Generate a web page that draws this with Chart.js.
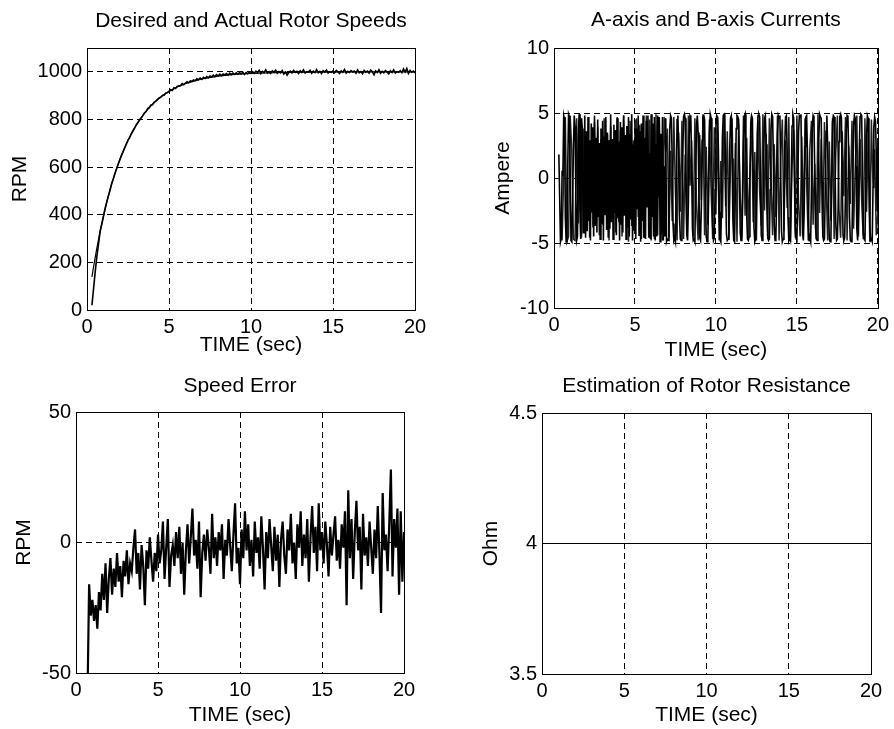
<!DOCTYPE html>
<html>
<head>
<meta charset="utf-8">
<title>Rotor speed simulation</title>
<script src="https://cdn.jsdelivr.net/npm/chart.js@4.4.0/dist/chart.umd.min.js"></script>
<style>
body { margin: 0; background: #fff; }
#fig { position: relative; width: 894px; height: 729px; }
canvas { position: absolute; }
</style>
</head>
<body>
<div id="fig">
<canvas id="c1" width="447" height="365" style="left:0;top:0"></canvas>
<canvas id="c2" width="447" height="365" style="left:447px;top:0"></canvas>
<canvas id="c3" width="447" height="364" style="left:0;top:365px"></canvas>
<canvas id="c4" width="447" height="364" style="left:447px;top:365px"></canvas>
</div>
<script>
// ---- dati ----
var titoli = ["Desired and Actual Rotor Speeds", "A-axis and B-axis Currents", "Speed Error", "Estimation of Rotor Resistance"];
var etichettaX = "TIME (sec)";
var etichetteY = ["RPM", "Ampere", "RPM", "Ohm"];

var tickTempo = [0, 5, 10, 15, 20];
var tickVel = [0, 200, 400, 600, 800, 1000];
var tickCorr = [-10, -5, 0, 5, 10];
var tickErr = [-50, 0, 50];
var tickRes = [3.5, 4, 4.5];

// velocita' desiderata (curva liscia)
var tDesiderata = [0.3, 0.4, 0.5, 0.6, 0.75, 0.9, 1, 1.1, 1.25, 1.4, 1.5, 1.75, 2, 2.25, 2.5, 2.75, 3, 3.25, 3.5, 4, 4.5, 5, 5.5, 6, 7, 8, 9, 10, 12, 14, 16, 18, 20];
var velDesiderata = [139, 181, 221, 259, 313, 362, 393, 423, 465, 503, 528, 583, 632, 675, 713, 747, 777, 803, 826, 865, 895, 918, 936, 950, 970, 982, 989, 993, 998, 999, 1000, 1000, 1000];

// velocita' reale, campionata ogni 0.1 s da 0.3 s
var velRealeInizio = 0.3, velRealePasso = 0.1;
var velReale = [20, 90, 160, 225, 275, 330, 360, 392,
    425, 452, 478, 502, 530, 550, 572, 592, 612, 630,
    648, 664, 680, 697, 712, 724, 739, 751, 764, 776,
    786, 797, 806, 815, 827, 833, 846, 850, 861, 862,
    873, 877, 884, 890, 893, 901, 902, 911, 912, 918,
    925, 922, 933, 930, 939, 941, 942, 951, 946, 953,
    958, 954, 962, 960, 966, 963, 971, 967, 974, 968,
    977, 972, 980, 975, 982, 978, 986, 980, 988, 983,
    990, 984, 991, 987, 993, 986, 994, 988, 995, 989,
    996, 990, 997, 991, 998, 989, 997, 992, 999, 993,
    1001, 994, 1003, 996, 1006, 992, 1002, 997, 1008, 995,
    1000, 993, 1004, 998, 1007, 994, 1001, 996, 1005, 991,
    999, 986, 997, 1003, 995, 1006, 998, 1002, 993, 1004,
    997, 1008, 995, 1001, 999, 1006, 994, 1003, 997, 1009,
    996, 1002, 993, 1005, 999, 1007, 995, 1001, 998, 1004,
    996, 1006, 1000, 993, 1004, 998, 1010, 995, 1002, 997,
    1005, 999, 1003, 994, 1008, 996, 1001, 992, 1006, 998,
    1003, 995, 1007, 1000, 988, 1004, 997, 1009, 994, 1002,
    996, 1006, 999, 991, 1004, 997, 1008, 995, 1001, 998,
    1005, 996, 1012, 999, 1014, 993, 1006, 998, 1003, 995];

// corrente asse A, ogni 0.05 s da 0.3 s
var corrAInizio = 0.3, corrAPasso = 0.05;
var corrA = [1.8, -1.5, -4.9, -4.6, 0.4, 0.3, 4.8, 4.5, -3.0, -4.9, -4.7, 1.0, 4.9, 4.7,
    0.5, -4.8, -4.9, -2.0, 2.5, 4.8, 4.0, -1.5, -4.8, -4.5,
    3.0, 4.9, -2.5, -4.7, 4.6, 3.8, -4.2, -3.0, 4.8, -4.6,
    3.6, -4.1, 4.7, -3.3, 2.9, -4.8, 4.2, -2.6, 3.9, -4.5,
    4.8, -3.7, 3.1, -4.2, 4.5, -3.0, 2.7, -4.7, 3.8, -3.5,
    4.4, -4.8, 3.2, -2.8, 4.7, -4.0, 3.5, -4.6, 2.9, -3.9,
    4.9, -3.4, 3.0, -4.7, 4.1, -2.7, 3.7, -4.4, 4.6, -3.1,
    2.8, -4.8, 4.3, -3.6, 3.9, -4.2, 4.8, -2.9, 3.3, -4.7,
    4.0, -3.8, 4.7, -4.5, 3.4, -3.2, 4.9, -4.8, 2.6, -4.0,
    4.5, -4.7, 3.8, -2.4, 4.8, -4.4, 3.6, -4.9, 4.2, -3.3,
    4.8, -4.6, 3.1, -4.7, 4.4, -2.2, 4.8, -4.6, 1.9, -4.7,
    4.9, -3.0, 4.2, -4.5, 4.7, -4.8, 2.6, -4.5, 4.8, -1.5,
    4.7, -4.9, 3.4, -4.2, 4.7, -4.8, 0.9, -4.5, 4.6, -4.9,
    -4.7, -4.8, -1.0, 3.8, 4.8, 4.6, 1.2, -3.5, -4.8, -4.6,
    -4.9, -0.5, 4.5, 4.8, 2.0, -2.8, -4.7, -4.8, -3.0, 1.5,
    4.7, 4.9, 4.6, 0.3, -4.4, -4.8, -1.8, 3.2, 4.8, 4.7,
    1.0, -3.9, -4.8, -4.7, -4.9, -0.2, 4.1, 4.8, 3.5, -1.2,
    -4.6, -4.8, -2.2, 2.9, 4.7, 4.8, 4.5, -0.6, -4.5, -4.9,
    -4.7, -1.4, 3.6, 4.9, 4.6, 0.8, -3.7, -4.8, -4.6, -0.9,
    4.0, 4.8, 4.7, 2.3, -2.6, -4.7, -4.9, -1.6, 3.1, 4.8,
    4.9, 4.6, -0.4, -4.3, -4.8, -4.7, -2.5, 2.2, 4.6, 4.8,
    1.5, -3.3, -4.8, -4.9, -0.7, 3.8, 4.8, 4.7, 4.5, 0.2,
    -4.2, -4.8, -4.6, -1.9, 2.7, 4.7, 4.9, 1.9, -2.9, -4.7,
    -4.8, -4.5, -0.3, 4.2, 4.8, 4.6, 0.6, -3.8, -4.9, -4.7,
    -1.3, 3.4, 4.8, 4.9, 4.7, -0.1, -4.4, -4.8, -2.8, 1.8,
    4.6, 4.8, 2.6, -2.1, -4.6, -4.8, -4.7, -0.9, 3.7, 4.9,
    4.7, 1.1, -3.6, -4.8, -4.6, -1.5, 3.3, 4.8, 4.6, 4.8,
    0.4, -4.1, -4.9, -4.7, -2.0, 2.6, 4.7, 4.8, 1.7, -3.0,
    -4.8, -4.6, -4.8, -0.6, 4.0, 4.9, 4.6, 0.9, -3.9, -4.7,
    -4.8, -1.1, 3.5, 4.8, 4.7, 4.9, 0.0, -4.3, -4.8, -2.4,
    2.4, 4.7, 4.8, 2.0, -2.7, -4.8, -4.6, -4.9, -0.8, 3.9,
    4.8, 4.6, 0.7, -3.8, -4.7, -4.8, -1.7, 3.0, 4.9, 4.7,
    4.6, -0.3, -4.5, -4.8, -4.7, -1.0, 3.6, 4.8, 2.5, -2.2,
    -4.7, -4.9, -4.6, -0.4, 4.3, 4.8, 4.7, 1.3, -3.4, -4.8,
    -4.7, -2.1, 2.8, 4.7, 4.9, 4.6, -0.2, -4.4, -4.8, -4.6,
    -1.2, 3.7, 4.8, 4.7, 1.6, -3.1, -4.8, -4.9, -4.7, -0.5,
    4.1, 4.8, 4.6, 0.9, -3.9, -4.8, -2.6, 2.0, 4.7, 4.9,
    4.8, 0.1, -4.2, -4.7, -4.8, -1.4, 3.2, 4.8, 4.6, 1.0,
    -3.5, -4.8, -4.7, -4.9, -0.7, 3.9, 4.7, 4.4, 2.0, -2.5,
    3.0];

// corrente asse B, ogni 0.1 s da 0.5 s
var corrBInizio = 0.5, corrBPasso = 0.1;
var corrB = [-4.8, 0.3, 4.7, -4.9, -4.5,
    4.8, 2.0, -4.7, -4.8, 4.6, -3.5, 4.9, -4.6, 3.8, -4.2,
    -2.9, 3.5, -4.6, 2.8, -3.8, 4.3, -3.2, 3.9, -4.4, 3.0,
    -3.6, 4.6, -2.7, 3.3, -4.8, 4.0, -3.1, 2.6, -4.2, 4.7,
    -3.4, 3.7, -4.5, 4.8, -2.8, 3.2, -4.9, 4.4, -3.7, 2.9,
    -4.3, 4.6, -3.0, 4.1, -4.7,
    3.4, -4.6, 4.8, -2.2, 4.5, -4.8, 1.6, -4.7, 4.9, -4.4, 4.6, -3.3, -4.8, 4.7, 2.0,
    3.8, -4.6, 2.1, -3.3, 4.7, -1.2, -4.8, 3.5, -2.6, 4.4,
    -4.7, 1.8, -3.9, 4.8, -0.6, 2.9, -4.5, 4.6, -2.1, -4.8,
    3.3, -1.7, 4.9, -4.4, 2.4, -3.6, 4.5, -0.9, -4.7, 3.9,
    -2.8, 4.7, -4.8, 1.3, -3.1, 4.8, -2.2, 3.6, -4.6, 0.7,
    4.6, -3.8, 2.7, -4.9, 4.2, -1.5, -4.6, 4.8, -2.9, 3.1,
    -4.5, 0.4, 4.7, -3.4, 2.0, -4.8, 4.4, -1.1, -3.7, 4.9,
    -2.5, 3.4, -4.7, 4.6, -0.3, -4.4, 2.6, -3.0, 4.8, -4.8,
    1.6, 4.5, -4.1, 2.9, -2.3, 4.7, -4.9, 0.8, 3.7, -4.6,
    4.8, -1.9, -4.5, 3.2, -3.5, 4.6, -0.5, -4.8, 2.3, 4.4,
    -3.6, 1.1, -4.7, 4.9, -2.7, 3.0, -4.4, 4.3, -0.2, -4.8,
    2.8, -3.3, 4.6, -4.7, 1.9, 4.8, -2.4, -4.6, 3.6, -1.4,
    4.7, -4.8, 2.5, -2.0, 4.4, -3.9, 0.6, 4.8, -4.5, 3.0,
    -1.8, -4.7, 4.6, -2.6, 3.3, -4.9, 4.5, -0.7, 2.2, -4.4,
    -2.6];

// errore di velocita', ogni 0.1 s da 0.7 s
var errInizio = 0.7, errPasso = 0.1;
var errVel = [-60, -16, -28, -22, -30, -24, -33, -19, -26, -12,
    -22, -8, -27, -14, -6, -20, -10, -17, -4, -15,
    -9, -21, -7, -13, -3, -16, -8, -11, -2, 5,
    -12, -4, -18, -1, -9, -24, -3, -10, 2, -7,
    -15, -4, -11, 3, -8, -3, 8, -14, -2, 9,
    -17, -5, -1, -9, 4, -6, 6, -12, 0, -20,
    -3, 7, -8, 2, 13, -5, 1, -10, 8, -21,
    -4, 3, -7, 5, -2, -12, 11, -6, 2, -9,
    4, -3, 7, -14, 1, -5, 9, -1, -11, 3,
    15, -8, -2, -16, 5, -6, 12, -3, 7, -9,
    1, -13, 8, -4, 2, -10, 10, -2, -18, 4,
    -6, 9, -1, -11, 6, -7, 3, -17, 1, 8,
    -5, -12, 5, -3, 11, -8, 0, -14, 7, -2,
    12, -9, 3, -6, 9, -15, 2, 14, -4, 6,
    -11, 15, -3, 4, -8, 8, -1, -13, 6, -5,
    3, 10, -7, 1, -10, 7, -2, 12, -24, 20,
    -6, 9, -14, 4, 16, -3, 6, -18, 11, -5,
    2, -9, 8, -2, -12, 5, -6, 14, -4, -27,
    19, -3, 3, -11, 7, 28, -13, 9, -2, 13,
    -20, 12, -15, 4];

// resistenza rotorica stimata
var tResistenza = [0, 5, 10, 15, 20];
var resistenza = [4, 4, 4, 4, 4];

// ---- costruzione ----
Chart.defaults.font.family = "'Liberation Sans', Arial, Helvetica, sans-serif";
Chart.defaults.color = '#000';

function punti(tempi, valori) {
    var out = [];
    for (var i = 0; i < valori.length; i++) {
        out.push({ x: tempi[i], y: valori[i] });
    }
    return out;
}

function campioni(inizio, passo, valori) {
    var out = [];
    for (var i = 0; i < valori.length; i++) {
        out.push({ x: +(inizio + i * passo).toFixed(3), y: valori[i] });
    }
    return out;
}

function serie(dati, colore, spessore) {
    return {
        data: dati,
        borderColor: colore,
        borderWidth: spessore,
        pointRadius: 0,
        tension: 0,
        fill: false
    };
}

// cornice chiusa e titolo sopra l'area del grafico
var cornice = {
    id: 'cornice',
    afterDraw: function (chart, args, opts) {
        var a = chart.chartArea;
        var ctx = chart.ctx;
        ctx.save();
        ctx.strokeStyle = '#000';
        ctx.lineWidth = 1;
        ctx.strokeRect(Math.round(a.left) + 0.5, Math.round(a.top) + 0.5,
            Math.round(a.right - a.left), Math.round(a.bottom - a.top));
        ctx.font = "21px 'Liberation Sans', Arial, sans-serif";
        ctx.fillStyle = '#000';
        ctx.textAlign = 'center';
        ctx.textBaseline = 'middle';
        ctx.fillText(opts.titolo, (a.left + a.right) / 2, opts.titoloY);
        ctx.restore();
    }
};

function asse(ticks, min, max, titolo, titoloPad, misura, orizzontale, padTick) {
    return {
        type: 'linear',
        min: min,
        max: max,
        afterBuildTicks: function (s) {
            s.ticks = ticks.map(function (v) { return { value: v }; });
        },
        afterFit: function (s) {
            if (orizzontale) s.height = misura; else s.width = misura;
        },
        grid: { color: '#000', lineWidth: 1, drawTicks: false },
        border: { display: false, dash: [6, 4] },
        ticks: {
            padding: padTick,
            font: { size: 20 },
            color: '#000',
            maxRotation: 0,
            autoSkip: false,
            callback: function (v) { return String(v); }
        },
        title: {
            display: true,
            text: titolo,
            font: { size: 21 },
            color: '#000',
            padding: orizzontale ? { top: 0, bottom: titoloPad } : { top: titoloPad, bottom: 0 }
        }
    };
}

function pannello(id, n, datasets, yTicks, yMin, yMax, g) {
    new Chart(document.getElementById(id), {
        type: 'line',
        data: { datasets: datasets },
        options: {
            responsive: false,
            animation: false,
            layout: { padding: { left: 0, top: g.top, right: g.right, bottom: 0 } },
            plugins: {
                legend: { display: false },
                tooltip: { enabled: false },
                cornice: { titolo: titoli[n], titoloY: g.titoloY }
            },
            scales: {
                x: asse(tickTempo, 0, 20, etichettaX, g.xTitPad, g.xh, true, 5),
                y: asse(yTicks, yMin, yMax, etichetteY[n], g.yTitPad, g.yw, false, 5)
            }
        },
        plugins: [cornice]
    });
}

pannello('c1', 0, [
    serie(punti(tDesiderata, velDesiderata), '#000', 1.2),
    serie(campioni(velRealeInizio, velRealePasso, velReale), '#000', 1.6)
], tickVel, 0, 1100, { top: 48, right: 32, yw: 87, xh: 55, yTitPad: 8, xTitPad: 7, titoloY: 21 });

pannello('c2', 1, [
    serie(campioni(corrAInizio, corrAPasso, corrA), '#000', 1.6),
    serie(campioni(corrBInizio, corrBPasso, corrB), '#222', 1.5)
], tickCorr, -10, 10, { top: 48, right: 13, yw: 107, xh: 57, yTitPad: 44, xTitPad: 2, titoloY: 20 });

pannello('c3', 2, [
    serie(campioni(errInizio, errPasso, errVel), '#000', 2.2)
], tickErr, -50, 50, { top: 47, right: 43, yw: 76, xh: 56, yTitPad: 12, xTitPad: 1, titoloY: 21 });

pannello('c4', 3, [
    serie(punti(tResistenza, resistenza), '#000', 1.2)
], tickRes, 3.5, 4.5, { top: 48, right: 23, yw: 95, xh: 55, yTitPad: 32, xTitPad: 1, titoloY: 21 });
</script>
</body>
</html>
